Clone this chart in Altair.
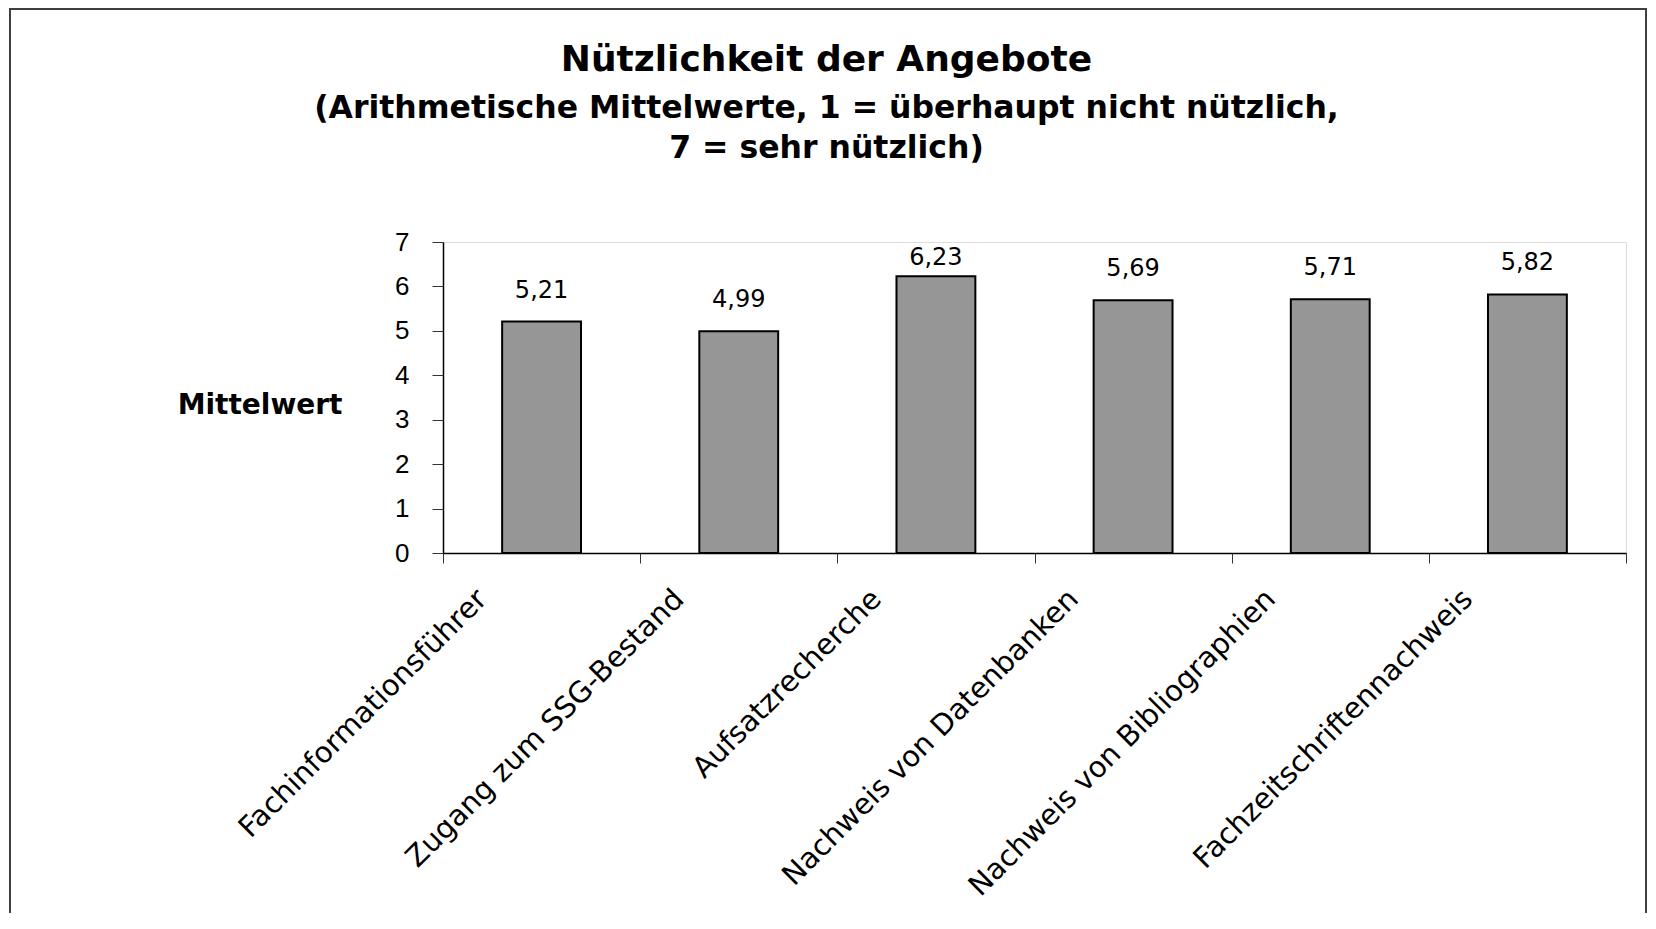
import altair as alt
import pandas as pd

categories = [
    "Fachinformationsführer",
    "Zugang zum SSG-Bestand",
    "Aufsatzrecherche",
    "Nachweis von Datenbanken",
    "Nachweis von Bibliographien",
    "Fachzeitschriftennachweis",
]
values = [5.21, 4.99, 6.23, 5.69, 5.71, 5.82]
y_ticks = [0, 1, 2, 3, 4, 5, 6, 7]

title_line = "Nützlichkeit der Angebote"
subtitle_lines = ["(Arithmetische Mittelwerte, 1 = überhaupt nicht nützlich,", "7 = sehr nützlich)"]
y_title = "Mittelwert"

df = pd.DataFrame({"Angebot": categories, "Mittelwert": values})

W, H = 1183, 311

x_enc = alt.X(
    "Angebot:N",
    sort=categories,
    scale=alt.Scale(paddingInner=0, paddingOuter=0),
    axis=alt.Axis(
        title=None,
        labelAngle=-45,
        labelAlign="right",
        labelBaseline="middle",
        labelFont="DejaVu Sans",
        labelFontSize=29,
        labelColor="#000000",
        labelLimit=0,
        labelOverlap=False,
        labelOffset=-60,
        labelPadding=31,
        tickBand="extent",
        tickSize=10,
        tickColor="#333333",
        domainColor="#000000",
        domainWidth=1.5,
    ),
)
y_enc = alt.Y(
    "Mittelwert:Q",
    scale=alt.Scale(domain=[0, 7], nice=False),
    axis=alt.Axis(
        values=y_ticks,
        title=y_title,
        titleAngle=0,
        titleAlign="right",
        titleBaseline="middle",
        titleX=-101,
        titleY=163,
        titleFont="DejaVu Sans",
        titleFontSize=28,
        titleFontWeight="bold",
        titleColor="#000000",
        labelFont="Liberation Sans",
        labelFontSize=26,
        labelColor="#000000",
        labelPadding=23,
        tickSize=11,
        tickColor="#333333",
        domainColor="#000000",
        domainWidth=1.5,
        grid=False,
    ),
)

bars = alt.Chart(df).mark_bar(
    color="#969696", stroke="#000000", strokeWidth=2,
    width=alt.RelativeBandSize(0.4),
).encode(x=x_enc, y=y_enc)

labels = alt.Chart(df).transform_calculate(
    txt="replace(format(datum.Mittelwert, '.2f'), '.', ',')",
    ypos="min(datum.Mittelwert, 5.94)",
).mark_text(
    font="DejaVu Sans", fontSize=24, color="#000000", baseline="alphabetic", dy=-24
).encode(
    x=alt.X("Angebot:N", sort=categories),
    y=alt.Y("ypos:Q"),
    text="txt:N",
)

frame = alt.Chart(pd.DataFrame({"f": [0]})).mark_rect(
    filled=False, stroke="#404040", strokeWidth=2
).encode(
    x=alt.value(-433), x2=alt.value(1203), y=alt.value(-233), y2=alt.value(720)
)

chart = alt.layer(frame, bars, labels).properties(
    width=W,
    height=H,
    title=alt.TitleParams(
        text=title_line,
        subtitle=subtitle_lines,
        anchor="middle",
        frame="group",
        dx=-208,
        dy=157,
        font="DejaVu Sans",
        fontSize=36,
        fontWeight="bold",
        color="#000000",
        subtitleFont="DejaVu Sans",
        subtitleFontSize=31.5,
        subtitleFontWeight="bold",
        subtitleColor="#000000",
        subtitleLineHeight=40,
        subtitlePadding=14,
        offset=0,
    ),
    autosize=alt.AutoSizeParams(type="none"),
    padding={"left": 435, "top": 234, "right": 22, "bottom": 360},
).configure_view(
    stroke="#808080", strokeWidth=1
).configure(background="#ffffff")

chart.save("out.html", embed_options={"renderer": "svg", "actions": False})
